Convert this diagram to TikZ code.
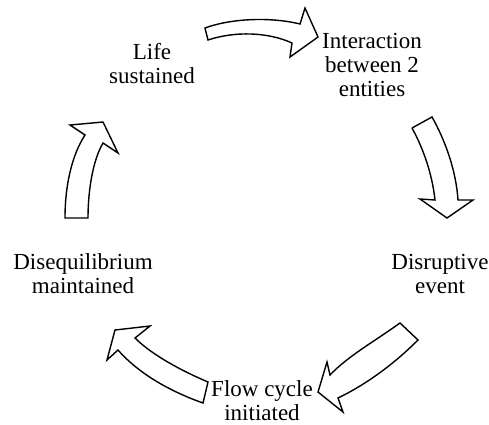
\documentclass[tikz,border=0pt]{standalone}
\usepackage{fontspec}
\setmainfont{Liberation Serif}
\begin{document}
\begin{tikzpicture}[x=1pt,y=-1pt,
  lbl/.style={align=center,anchor=base,inner sep=0pt,font=\fontsize{23}{24}\selectfont},
  blockarrow/.style={draw=black,fill=white,line width=1.4pt,line join=miter}]
\useasboundingbox (0,0) rectangle (489,424);
% top arrow
\draw[blockarrow] (205,28) .. controls (232,18) and (272,17) .. (300,24)
  -- (305,8) -- (318,37) -- (290,57) -- (292,43)
  .. controls (268,32) and (235,31) .. (208,40) -- cycle;
% right arrow
\draw[blockarrow] (412,128) -- (432,117)
  .. controls (445,140) and (456,170) .. (458,200)
  -- (473,200) -- (447,218) -- (420,199) -- (435,200)
  .. controls (432,172) and (422,146) .. (412,128);
% bottom-right arrow
\draw[blockarrow] (400,323) .. controls (375,341) and (348,356) .. (330,375)
  -- (327,362) -- (318,392) -- (343,412) -- (338,398)
  .. controls (365,385) and (393,365) .. (418,340) -- cycle;
% bottom-left arrow
\draw[blockarrow] (208,382) .. controls (182,371) and (152,355) .. (135,338)
  -- (150,326) -- (115,330) -- (107,360) -- (118,350)
  .. controls (140,375) and (172,392) .. (203,403) -- cycle;
% left arrow
\draw[blockarrow] (65,218) .. controls (65,185) and (72,155) .. (85,135)
  -- (70,125) -- (103,122) -- (118,153) -- (103,143)
  .. controls (93,160) and (88,190) .. (88,218) -- cycle;
% labels (anchor = baseline of last line)
\node[lbl] (life) at (152,83) {Life\\sustained};
\node[lbl] (inter) at (372,96) {Interaction\\between 2\\entities};
\node[lbl] (disr) at (440,293) {Disruptive\\event};
\node[lbl] (flow) at (262,420) {Flow cycle\\initiated};
\node[lbl] (diseq) at (83,293) {Disequilibrium\\maintained};
\end{tikzpicture}
\end{document}
